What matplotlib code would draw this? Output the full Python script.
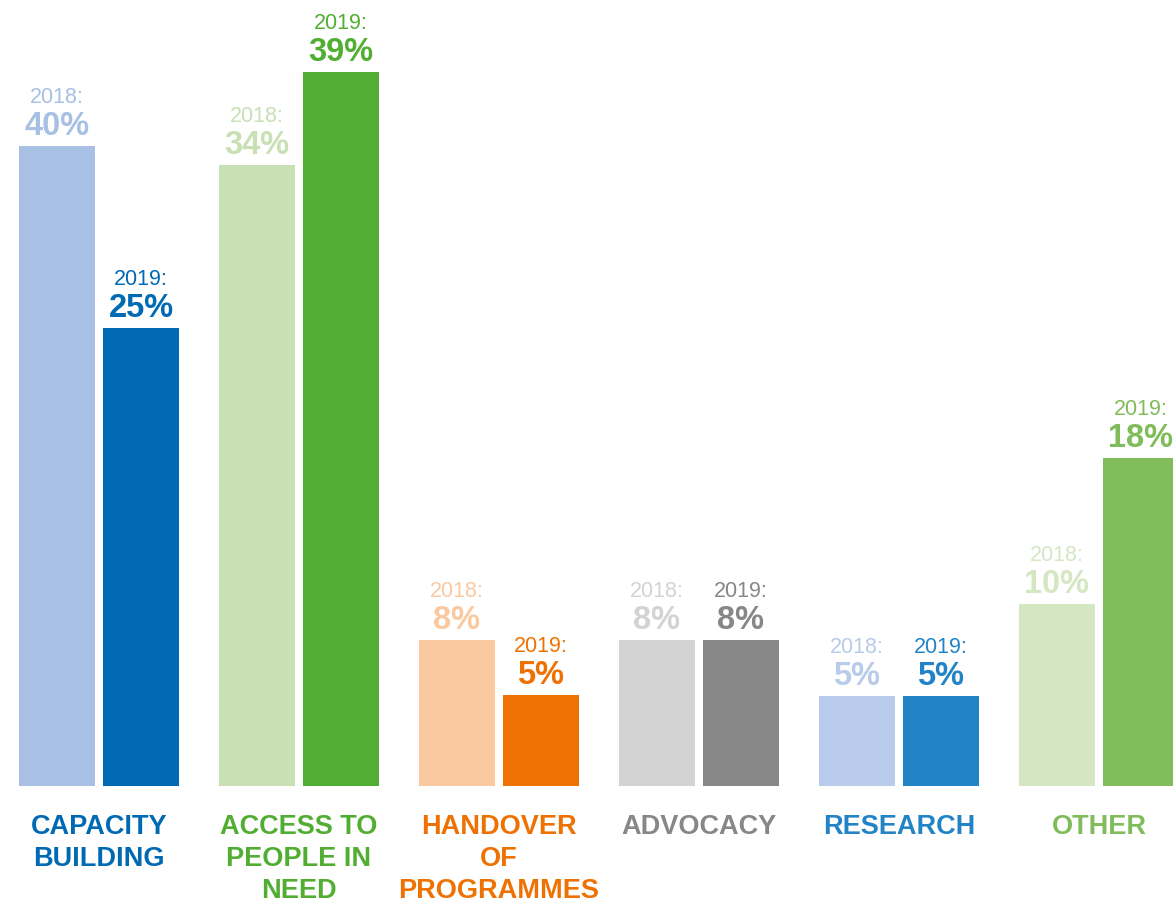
import numpy as np
import matplotlib
matplotlib.use("Agg")
import matplotlib.pyplot as plt

# datos
categorias = ["CAPACITY\nBUILDING", "ACCESS TO\nPEOPLE IN\nNEED", "HANDOVER\nOF\nPROGRAMMES",
              "ADVOCACY", "RESEARCH", "OTHER"]
etiquetas_2018 = ["40%", "34%", "8%", "8%", "5%", "10%"]
etiquetas_2019 = ["25%", "39%", "5%", "8%", "5%", "18%"]
# alturas dibujadas (la figura no esta a escala)
altura_2018 = [40.0, 38.8, 9.1, 9.1, 5.6, 11.4]
altura_2019 = [28.6, 44.6, 5.7, 9.1, 5.6, 20.5]

colores_2018 = ["#A7C0E3", "#C9DFB4", "#F9C9A0", "#D3D3D3", "#B8CBEB", "#D5E6C3"]
colores_2019 = ["#006AB4", "#52AE32", "#EE7203", "#878787", "#2284C6", "#80BC5A"]
colores_cat = ["#0069B4", "#52AE32", "#EE7203", "#878787", "#2284C6", "#80BC5A"]

fig = plt.figure(figsize=(11.73, 9.04), dpi=100)
ax = fig.add_axes([0, 117 / 904, 1, 787 / 904])

x = np.arange(len(categorias))
ancho = 0.38
desp = 0.21

ax.bar(x - desp, altura_2018, ancho, color=colores_2018)
ax.bar(x + desp, altura_2019, ancho, color=colores_2019)

ax.set_xlim(-99 / 200, (1173 - 99) / 200)
ax.set_ylim(0, 787 / 16)
ax.axis("off")

for i in range(len(categorias)):
    for xi, h, lab, anio, col in [(x[i] - desp, altura_2018[i], etiquetas_2018[i], "2018:", colores_2018[i]),
                                  (x[i] + desp, altura_2019[i], etiquetas_2019[i], "2019:", colores_2019[i])]:
        ax.annotate(lab, (xi, h), xytext=(0, 12), textcoords="offset pixels",
                    ha="center", va="baseline", fontsize=23.5, fontweight="bold",
                    family="Liberation Sans", color=col)
        ax.annotate(anio, (xi, h), xytext=(0, 44), textcoords="offset pixels",
                    ha="center", va="baseline", fontsize=15.5,
                    family="Liberation Sans", color=col)
    ax.annotate(categorias[i], (x[i], 0), xytext=(0, -27), textcoords="offset pixels",
                ha="center", va="top", fontsize=19.5, fontweight="bold",
                family="Liberation Sans", color=colores_cat[i], linespacing=1.3)

fig.savefig("out.png", dpi=100)
